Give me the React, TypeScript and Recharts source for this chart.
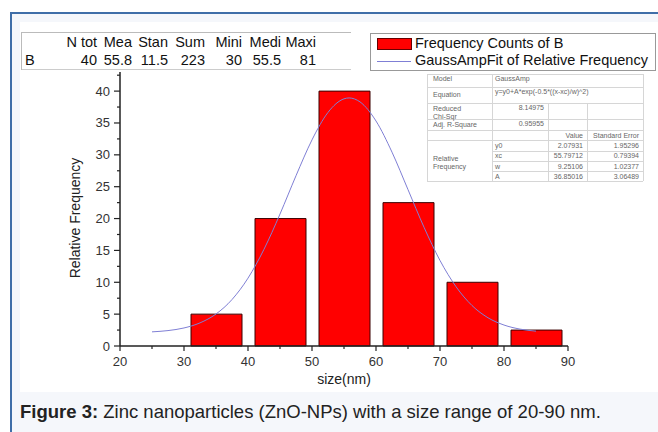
import React from 'react';
import { ComposedChart, Bar, Line, XAxis, YAxis } from 'recharts';

// histogram bins (centre of each 10 nm bin) and counts
const binCenters = [35, 45, 55, 65, 75, 85];
const binCounts = [5, 20, 40, 22.5, 10, 2.5];

// GaussAmp fit curve
const fitX = [25, 27.5, 30, 32.5, 35, 37.5, 40, 42.5, 45, 47.5, 50, 52.5, 55, 55.8, 57.5, 60, 62.5, 65, 67.5, 70, 72.5, 75, 77.5, 80, 82.5, 85];
const fitY = [2.22, 2.42, 2.83, 3.63, 5.02, 7.29, 10.65, 15.18, 20.71, 26.72, 32.35, 36.66, 38.79, 38.93, 38.31, 35.31, 30.42, 24.54, 18.64, 13.42, 9.31, 6.35, 4.43, 3.29, 2.65, 2.33];

const xMajor = [20, 30, 40, 50, 60, 70, 80, 90];
const xMinor = [25, 35, 45, 55, 65, 75, 85];
const yMajor = [0, 5, 10, 15, 20, 25, 30, 35, 40];
const yMinor = [2.5, 7.5, 12.5, 17.5, 22.5, 27.5, 32.5, 37.5, 42.5];

// descriptive statistics table
const statHeaders = ['N tot', 'Mea', 'Stan', 'Sum', 'Mini', 'Medi', 'Maxi'];
const statValues = ['40', '55.8', '11.5', '223', '30', '55.5', '81'];

// fit report
const fitParams = ['y0', 'xc', 'w', 'A'];
const fitValues = ['2.07931', '55.79712', '9.25106', '36.85016'];
const fitErrors = ['1.95296', '0.79394', '1.02377', '3.06489'];

const barRows = binCenters.map((x, i) => ({ x, count: binCounts[i] }));
const fitRows = fitX.map((x, i) => ({ x, fit: fitY[i] }));

const FONT = '"Liberation Sans", Arial, sans-serif';
const AXIS = '#222';
const TS = 6;
const TM = 3;

const XTick = (props: any) => {
  const { x, y, payload } = props;
  const major = xMajor.includes(payload.value);
  const ay = y - TS - TM;
  return (
    <g>
      <line x1={x} x2={x} y1={ay} y2={ay + (major ? 5 : 3)} stroke={AXIS} strokeWidth={1.2} />
      {major && (
        <text x={x} y={ay + 20} textAnchor="middle" fontSize={13} fill="#333" fontFamily={FONT}>
          {payload.value}
        </text>
      )}
    </g>
  );
};

const YTick = (props: any) => {
  const { x, y, payload } = props;
  const major = yMajor.includes(payload.value);
  const ax = x + TS + TM;
  return (
    <g>
      <line x1={ax} x2={ax - (major ? 6 : 3)} y1={y} y2={y} stroke={AXIS} strokeWidth={1.2} />
      {major && (
        <text x={ax - 10} y={y + 4.5} textAnchor="end" fontSize={13} fill="#333" fontFamily={FONT}>
          {payload.value}
        </text>
      )}
    </g>
  );
};

const cell = (extra: React.CSSProperties): React.CSSProperties => ({
  position: 'absolute',
  whiteSpace: 'nowrap',
  ...extra,
});

function StatsTable() {
  const rights = [97, 132, 168, 205, 242, 281, 316];
  return (
    <div style={cell({ left: 21, top: 32, width: 330, height: 38, fontSize: 14.5, color: '#111' })}>
      <div style={cell({ left: 0, top: 0, width: 330, height: 0, borderTop: '1px solid #bbb' })} />
      <div style={cell({ left: 0, top: 37, width: 330, height: 0, borderTop: '1px solid #ccc' })} />
      <div style={cell({ left: 0, top: 0, width: 0, height: 38, borderLeft: '1px solid #bbb' })} />
      <div style={cell({ left: 4, top: 20 })}>B</div>
      {statHeaders.map((h, i) => (
        <div key={h} style={cell({ left: rights[i] - 21 - 40, width: 40, top: 2, textAlign: 'right' })}>{h}</div>
      ))}
      {statValues.map((v, i) => (
        <div key={i} style={cell({ left: rights[i] - 21 - 40, width: 40, top: 20, textAlign: 'right' })}>{v}</div>
      ))}
    </div>
  );
}

function LegendBox() {
  return (
    <div style={cell({ left: 370, top: 33, width: 284, height: 36, border: '1px solid #999', background: '#fff', fontSize: 14.5, color: '#111' })}>
      <div style={cell({ left: 6, top: 4, width: 33, height: 10, background: '#ff0000', border: '1px solid #600' })} />
      <div style={cell({ left: 44, top: 1 })}>Frequency Counts of B</div>
      <div style={cell({ left: 6, top: 27, width: 34, height: 0, borderTop: '1px solid #7f7fd5' })} />
      <div style={cell({ left: 44, top: 18 })}>GaussAmpFit of Relative Frequency</div>
    </div>
  );
}

function FitTable() {
  const L = 427;
  const T = 74;
  const rows = [74, 87, 103, 119, 130, 140, 151, 161, 171, 181];
  const line = '1px solid #d6d6d6';
  const txt: React.CSSProperties = { fontSize: 7, color: '#666', lineHeight: '8px' };
  const hl = (y: number, x1: number, x2: number) => (
    <div key={`h${y}-${x1}`} style={cell({ left: x1 - L, top: y - T, width: x2 - x1, height: 0, borderTop: line })} />
  );
  const vl = (x: number, y1: number, y2: number) => (
    <div key={`v${x}-${y1}`} style={cell({ left: x - L, top: y1 - T, width: 0, height: y2 - y1, borderLeft: line })} />
  );
  return (
    <div style={cell({ left: L, top: T, width: 217, height: 108, background: '#fff', fontFamily: FONT })}>
      {rows.filter((_, i) => i < 6 || i === 9).map(y => hl(y, 427, 643))}
      {rows.slice(6, 9).map(y => hl(y, 492, 643))}
      {vl(427, 74, 181)}
      {vl(643, 74, 181)}
      {vl(492, 74, 181)}
      {vl(548, 103, 181)}
      {vl(587, 103, 181)}
      <div style={cell({ ...txt, left: 6, top: 1 })}>Model</div>
      <div style={cell({ ...txt, left: 68, top: 1 })}>GaussAmp</div>
      <div style={cell({ ...txt, left: 6, top: 17 })}>Equation</div>
      <div style={cell({ ...txt, left: 68, top: 14 })}>{'y=y0+A*exp(-0.5*((x-xc)/w)^2)'}</div>
      <div style={cell({ ...txt, left: 6, top: 31 })}>Reduced<br />Chi-Sqr</div>
      <div style={cell({ ...txt, left: 68, top: 30, width: 49, textAlign: 'right' })}>8.14975</div>
      <div style={cell({ ...txt, left: 6, top: 47 })}>Adj. R-Square</div>
      <div style={cell({ ...txt, left: 68, top: 46, width: 49, textAlign: 'right' })}>0.95955</div>
      <div style={cell({ ...txt, left: 124, top: 58, width: 32, textAlign: 'right' })}>Value</div>
      <div style={cell({ ...txt, left: 162, top: 58, width: 50, textAlign: 'right' })}>Standard Error</div>
      <div style={cell({ ...txt, left: 6, top: 81 })}>Relative<br />Frequency</div>
      {fitParams.map((p, i) => (
        <React.Fragment key={p}>
          <div style={cell({ ...txt, left: 68, top: 68 + i * 10.3 })}>{p}</div>
          <div style={cell({ ...txt, left: 124, top: 68 + i * 10.3, width: 32, textAlign: 'right' })}>{fitValues[i]}</div>
          <div style={cell({ ...txt, left: 162, top: 68 + i * 10.3, width: 50, textAlign: 'right' })}>{fitErrors[i]}</div>
        </React.Fragment>
      ))}
    </div>
  );
}

export default function App() {
  return (
    <div style={{ position: 'absolute', left: 0, top: 0, width: 658, height: 432, background: '#fff', overflow: 'hidden', fontFamily: FONT }}>
      <div style={cell({ left: 10, top: 12, width: 660, height: 440, background: '#f5f7fb', borderLeft: '2px solid #3f6ea8', borderTop: '2px solid #3f6ea8' })} />
      <div style={cell({ left: 20, top: 22, width: 640, height: 370, background: '#fff' })} />
      <div style={cell({ left: 0, top: 0 })}>
        <ComposedChart width={658} height={432} data={barRows} margin={{ top: 72, right: 90, bottom: 46, left: 60 }}>
          <XAxis
            xAxisId="x" dataKey="x" type="number" domain={[20, 90]}
            ticks={[...xMajor, ...xMinor].sort((a, b) => a - b)} interval={0}
            height={40} tickSize={TS} tickMargin={TM} tickLine={false} tick={<XTick />}
            stroke={AXIS} axisLine={{ stroke: AXIS, strokeWidth: 1.5 }}
            label={{ value: 'size(nm)', position: 'insideBottom', offset: 2, fontSize: 14, fill: '#222', fontFamily: FONT }}
          />
          <XAxis xAxisId="fit" dataKey="x" type="number" domain={[20, 90]} height={0} hide />
          <YAxis
            yAxisId="y" type="number" domain={[0, 43]}
            ticks={[...yMajor, ...yMinor].sort((a, b) => a - b)} interval={0}
            width={60} tickSize={TS} tickMargin={TM} tickLine={false} tick={<YTick />}
            stroke={AXIS} axisLine={{ stroke: AXIS, strokeWidth: 1.5 }}
            label={{
              content: (p: any) => {
                const vb = p.viewBox;
                const cx = vb.x + 16;
                const cy = vb.y + vb.height / 2 + 9;
                return (
                  <text x={cx} y={cy} transform={`rotate(-90 ${cx} ${cy})`} textAnchor="middle" dominantBaseline="middle" fontSize={14} fill="#222" fontFamily={FONT}>
                    Relative Frequency
                  </text>
                );
              },
            }}
          />
          <Bar xAxisId="x" yAxisId="y" dataKey="count" barSize={51} fill="#ff0000" stroke="#3a0000" strokeWidth={1} isAnimationActive={false} />
          <Line xAxisId="fit" yAxisId="y" data={fitRows} dataKey="fit" type="monotone" stroke="#7f7fd5" strokeWidth={1} dot={false} isAnimationActive={false} />
        </ComposedChart>
      </div>
      <StatsTable />
      <LegendBox />
      <FitTable />
      <div style={cell({ left: 20, top: 401, fontSize: 18.5, color: '#222' })}>
        <b>Figure 3:</b> Zinc nanoparticles (ZnO-NPs) with a size range of 20-90 nm.
      </div>
    </div>
  );
}
